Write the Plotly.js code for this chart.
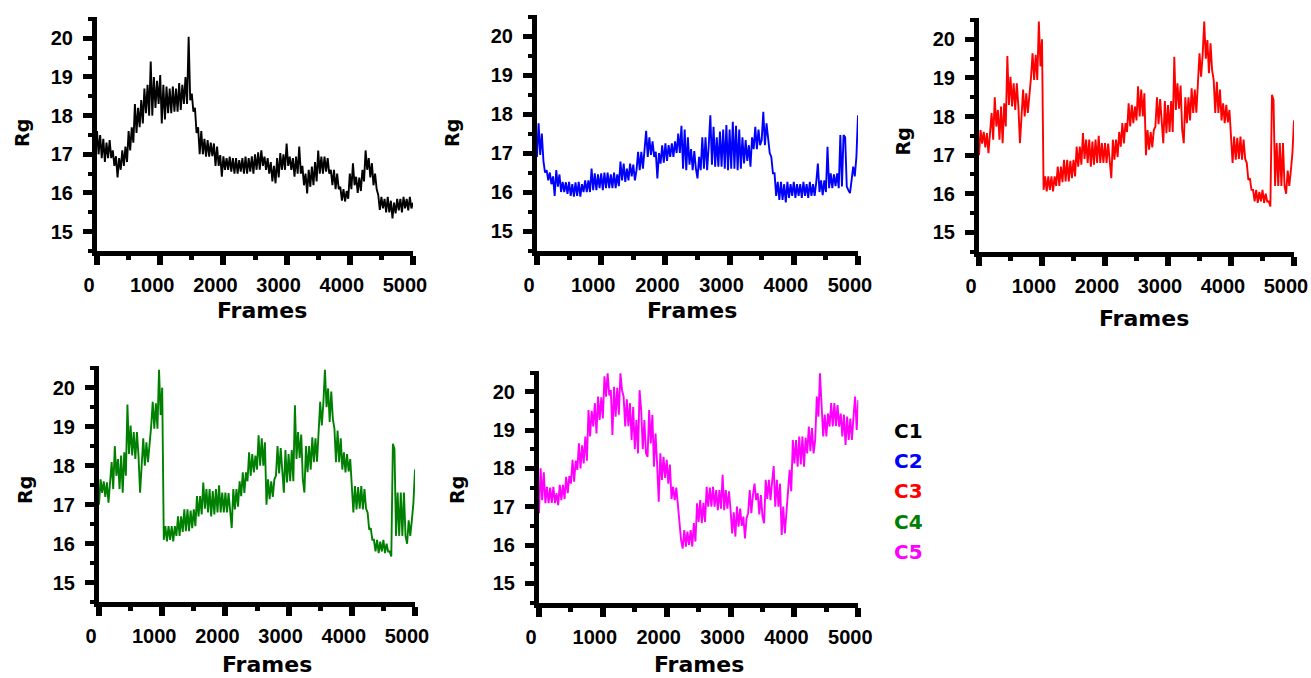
<!DOCTYPE html>
<html>
<head>
<meta charset="utf-8">
<script src="https://cdn.plot.ly/plotly-3.0.1.min.js"></script>
<style>
  html, body { margin: 0; padding: 0; background: #ffffff; }
  #chart { width: 1311px; height: 678px; }
</style>
</head>
<body>
<div id="chart"></div>
<script>
// ---------- data (every 25 frames) ----------
var frames = [
  0,25,50,75,100,125,150,175,200,225,250,275,300,325,350,375,400,425,450,475,
  500,525,550,575,600,625,650,675,700,725,750,775,800,825,850,875,900,925,950,975,
  1000,1025,1050,1075,1100,1125,1150,1175,1200,1225,1250,1275,1300,1325,1350,1375,1400,1425,1450,1475,
  1500,1525,1550,1575,1600,1625,1650,1675,1700,1725,1750,1775,1800,1825,1850,1875,1900,1925,1950,1975,
  2000,2025,2050,2075,2100,2125,2150,2175,2200,2225,2250,2275,2300,2325,2350,2375,2400,2425,2450,2475,
  2500,2525,2550,2575,2600,2625,2650,2675,2700,2725,2750,2775,2800,2825,2850,2875,2900,2925,2950,2975,
  3000,3025,3050,3075,3100,3125,3150,3175,3200,3225,3250,3275,3300,3325,3350,3375,3400,3425,3450,3475,
  3500,3525,3550,3575,3600,3625,3650,3675,3700,3725,3750,3775,3800,3825,3850,3875,3900,3925,3950,3975,
  4000,4025,4050,4075,4100,4125,4150,4175,4200,4225,4250,4275,4300,4325,4350,4375,4400,4425,4450,4475,
  4500,4525,4550,4575,4600,4625,4650,4675,4700,4725,4750,4775,4800,4825,4850,4875,4900,4925,4950,4975,
  5000];

var seriesNames = ["C1", "C2", "C3", "C4", "C5"];

var rgC1 = [
  17.6,17.0,17.5,16.9, 17.4,16.8,17.3,16.9, 17.37,16.9,17.1,16.7, 16.95,16.4,16.9,16.6, 17.1,16.7,17.2,16.8,
  17.6,17.1,17.7,17.3, 18.3,17.55,18.2,17.7, 18.4,17.8,18.7,18.06, 18.8,18.0,19.4,18.0, 19.0,18.2,18.9,18.3,
  19.05,17.8,18.8,17.9, 18.75,18.06,18.7,18.06, 18.75,18.1,18.7,18.1, 18.84,18.15,18.8,18.3, 19.0,18.3,20.04,18.4,
  18.57,18.1,18.2,17.55, 17.7,17.0,17.6,17.0, 17.4,16.94,17.37,16.94, 17.3,16.95,17.28,16.7, 17.2,16.7,16.98,16.42,
  16.95,16.6,16.9,16.6, 16.94,16.55,16.9,16.5, 16.9,16.5,16.85,16.55, 16.9,16.5,16.94,16.5, 16.9,16.55,16.95,16.5,
  17.0,16.6,17.05,16.6, 17.1,16.7,16.94,16.6, 16.9,16.5,16.8,16.3, 16.7,16.25,16.9,16.4, 17.03,16.6,17.0,16.6,
  17.28,16.7,16.94,16.6, 16.9,16.42,16.94,16.5, 17.2,16.5,16.7,16.2, 16.5,15.99,16.6,16.16, 16.68,16.2,16.8,16.3,
  17.1,16.5,16.94,16.5, 16.94,16.55,16.9,16.5, 16.6,16.2,16.6,16.1, 16.5,16.1,16.16,15.8, 16.1,15.78,16.05,15.85,
  16.5,16.1,16.77,16.2, 16.42,16.0,16.4,16.05, 16.6,16.3,17.1,16.6, 16.9,16.4,16.77,16.2, 16.5,16.1,15.95,15.56,
  15.9,15.6,15.85,15.5, 15.9,15.5,15.8,15.34, 15.75,15.47,15.85,15.55, 15.85,15.5,15.9,15.6, 15.85,15.55,15.9,15.6,
  15.75];

var rgC2 = [
  16.9,17.76,16.95,17.5, 16.8,16.5,16.56,16.3, 16.5,16.2,16.4,15.9, 16.56,16.14,16.45,16.0, 16.26,16.0,16.25,15.95,
  16.26,15.9,16.2,15.88, 16.25,15.9,16.26,15.88, 16.2,16.0,16.3,16.0, 16.3,16.0,16.6,16.05, 16.48,16.05,16.45,16.1,
  16.48,16.05,16.5,16.1, 16.5,16.1,16.45,16.1, 16.5,16.1,16.45,16.15, 16.78,16.3,16.73,16.26, 16.6,16.3,16.73,16.4,
  16.7,16.3,16.56,17.03, 16.56,17.03,16.6,17.2, 17.57,16.9,17.4,16.95, 17.3,16.9,17.03,16.35, 17.0,16.73,17.2,16.75,
  17.25,16.8,17.2,16.9, 17.25,16.9,17.3,17.0, 17.5,17.0,17.7,16.6, 17.6,16.56,17.4,16.7, 17.1,16.56,17.05,16.6,
  16.35,16.9,16.56,17.4, 16.6,17.4,16.56,17.2, 17.97,16.7,17.67,16.65, 17.4,16.65,17.55,16.65, 17.6,16.6,17.72,16.56,
  17.6,16.6,17.8,16.6, 17.7,16.56,17.6,16.6, 17.4,16.73,17.33,16.8, 17.2,16.65,17.4,17.1, 17.67,17.1,17.6,17.2,
  17.33,18.06,17.2,17.76, 17.4,17.0,16.9,16.48, 16.48,15.9,16.26,15.8, 16.26,15.8,16.2,15.73, 16.26,15.85,16.2,15.9,
  16.26,15.85,16.2,15.9, 16.2,15.85,16.26,15.9, 16.2,15.85,16.26,15.9, 16.2,15.9,16.26,16.73, 16.0,16.3,15.92,16.3,
  16.0,17.16,16.1,16.48, 16.1,16.45,16.15,16.48, 16.1,17.46,16.14,17.46, 17.4,16.14,16.05,15.97, 16.3,16.65,16.4,16.9,
  17.97];

var rgC3 = [
  17.0,17.65,17.3,17.6, 17.2,17.57,17.05,17.5, 18.09,17.4,18.5,17.74, 18.17,17.4,18.26,17.31, 18.34,17.74,19.57,18.3,
  19.03,18.26,18.86,18.17, 18.86,18.26,17.31,18.0, 18.7,18.0,18.6,18.09, 18.5,19.0,19.64,18.95, 19.6,18.95,20.46,19.3,
  20.0,16.1,16.45,16.06, 16.45,16.1,16.45,16.06, 16.45,16.2,16.7,16.2, 16.7,16.3,16.88,16.32, 16.88,16.32,16.85,16.4,
  16.88,16.45,17.22,16.7, 17.22,16.75,17.57,16.9, 17.4,16.8,17.4,16.7, 17.35,16.75,17.4,16.8, 17.5,16.8,17.31,16.8,
  17.31,16.8,17.3,16.85, 16.4,17.4,16.88,17.4, 16.95,17.6,17.22,17.83, 17.3,17.83,17.6,18.34, 17.74,18.3,17.83,18.26,
  17.9,18.78,18.0,18.7, 18.0,18.6,17.0,17.65, 17.14,17.6,17.2,17.65, 17.74,18.5,17.8,18.45, 17.74,17.31,18.4,17.57,
  18.3,17.6,18.4,17.6, 19.55,18.17,18.86,18.2, 18.8,17.65,17.31,18.5, 17.83,18.5,17.9,18.73, 18.09,18.7,18.1,19.03,
  19.64,19.03,19.6,20.46, 19.5,19.98,19.12,19.9, 19.2,18.95,18.09,18.9, 18.09,18.7,17.9,18.34, 17.83,18.3,17.85,18.17,
  17.31,16.8,17.48,16.88, 17.45,16.9,17.48,16.88, 17.4,16.9,16.8,16.36, 16.4,16.1,16.1,15.8, 16.1,15.76,16.05,15.8,
  16.1,15.76,16.0,15.8, 15.8,15.67,18.56,18.43, 16.2,17.31,16.2,17.31, 16.2,17.31,16.2,16.0, 16.6,16.2,16.6,17.05,
  17.9];

var rgC4 = [
  17.0,17.65,17.3,17.6, 17.2,17.57,17.05,17.5, 18.09,17.4,18.5,17.74, 18.17,17.4,18.26,17.31, 18.34,17.74,19.57,18.3,
  19.03,18.26,18.86,18.17, 18.86,18.26,17.31,18.0, 18.7,18.0,18.6,18.09, 18.5,19.0,19.64,18.95, 19.6,18.95,20.46,19.3,
  20.0,16.1,16.45,16.06, 16.45,16.1,16.45,16.06, 16.45,16.2,16.7,16.2, 16.7,16.3,16.88,16.32, 16.88,16.32,16.85,16.4,
  16.88,16.45,17.22,16.7, 17.22,16.75,17.57,16.9, 17.4,16.8,17.4,16.7, 17.35,16.75,17.4,16.8, 17.5,16.8,17.31,16.8,
  17.31,16.8,17.3,16.85, 16.4,17.4,16.88,17.4, 16.95,17.6,17.22,17.83, 17.3,17.83,17.6,18.34, 17.74,18.3,17.83,18.26,
  17.9,18.78,18.0,18.7, 18.0,18.6,17.0,17.65, 17.14,17.6,17.2,17.65, 17.74,18.5,17.8,18.45, 17.74,17.31,18.4,17.57,
  18.3,17.6,18.4,17.6, 19.55,18.17,18.86,18.2, 18.8,17.65,17.31,18.5, 17.83,18.5,17.9,18.73, 18.09,18.7,18.1,19.03,
  19.64,19.03,19.6,20.46, 19.5,19.98,19.12,19.9, 19.2,18.95,18.09,18.9, 18.09,18.7,17.9,18.34, 17.83,18.3,17.85,18.17,
  17.31,16.8,17.48,16.88, 17.45,16.9,17.48,16.88, 17.4,16.9,16.8,16.36, 16.4,16.1,16.1,15.8, 16.1,15.76,16.05,15.8,
  16.1,15.76,16.0,15.8, 15.8,15.67,18.56,18.43, 16.2,17.31,16.2,17.31, 16.2,17.31,16.2,16.0, 16.6,16.2,16.6,17.05,
  17.9];

var rgC5 = [
  16.83,18.0,17.17,17.9, 17.09,17.52,17.09,17.5, 17.1,17.52,17.09,17.35, 17.04,17.57,17.17,17.57, 17.2,17.78,17.35,17.8,
  17.6,18.22,17.65,18.2, 17.96,18.65,18.0,18.6, 18.13,18.83,18.2,19.52, 18.83,19.5,19.09,19.7, 18.91,19.87,19.26,19.85,
  19.3,20.4,19.87,20.48, 19.9,20.04,18.87,20.13, 19.35,20.1,19.4,20.48, 20.04,19.87,19.09,19.8, 19.1,19.7,18.74,19.6,
  18.5,19.26,18.39,20.04, 19.52,18.5,19.26,18.39, 18.3,19.52,18.65,19.4, 18.04,18.91,18.1,17.13, 18.39,17.7,18.3,17.75,
  18.22,17.6,18.1,17.2, 17.52,17.17,17.5,17.0, 16.57,16.13,15.91,16.39, 15.96,16.35,16.0,16.39, 15.96,16.57,16.09,17.09,
  16.6,17.17,16.57,17.1, 16.6,17.52,17.0,17.5, 17.0,17.52,17.0,17.43, 16.91,17.43,16.95,17.83, 16.91,17.43,16.95,17.4,
  16.91,16.3,16.85,16.22, 17.0,16.48,16.95,16.5, 16.74,16.17,16.7,16.83, 17.43,16.83,17.3,17.6, 17.17,17.35,16.8,17.3,
  16.74,16.57,17.7,17.2, 17.7,17.17,17.65,18.06, 17.0,17.7,17.0,17.6, 16.26,17.0,16.3,16.9, 17.35,17.96,17.4,18.74,
  18.13,18.74,18.04,18.83, 18.1,18.83,18.04,18.8, 18.39,19.09,18.45,19.05, 18.39,18.74,19.87,19.35, 20.48,19.43,18.83,19.4,
  18.83,19.43,19.09,19.7, 19.09,19.7,19.1,19.65, 19.09,19.43,18.83,19.4, 18.61,19.35,18.74,19.3, 18.74,19.35,19.87,19.0,
  19.78];

var xTickVals = [0, 1000, 2000, 3000, 4000, 5000];
var xTickText = ["0", "1000", "2000", "3000", "4000", "5000"];
var yTickVals = [15, 16, 17, 18, 19, 20];
var yTickText = ["15", "16", "17", "18", "19", "20"];
var xTitle = "Frames";
var yTitle = "Rg";

// ---------- styling / layout ----------
var W = 1311, H = 678;
var colors = ["#000000", "#0000ff", "#ff0000", "#008000", "#ff00ff"];
var allSeries = [rgC1, rgC2, rgC3, rgC4, rgC5];

// panel boxes in pixels: [left, right, top, bottom]
var boxes = [
  [97, 413, 17, 251],
  [537, 858, 14.6, 250.5],
  [979, 1294, 18.1, 251.6],
  [99, 415, 366.2, 602.2],
  [539, 858.3, 370.6, 602.5]
];
// axis-title positions in pixels (centre x, centre y)
var xTitlePos = [[262, 310], [692, 310], [1144, 318.5], [267, 664], [699, 664]];
var yTitlePos = [[22, 133], [452, 133], [903, 141.5], [25, 490], [457, 490]];

var tickFont = {family: "Liberation Sans, Arial, sans-serif", size: 20, color: "#000", weight: "bold"};
var titleFont = {family: "DejaVu Sans, Verdana, sans-serif", size: 22, color: "#000", weight: "bold"};
var rgFont = {family: "DejaVu Sans, Verdana, sans-serif", size: 19, color: "#000", weight: "bold"};
var legFont = {family: "DejaVu Sans, Verdana, sans-serif", size: 20, weight: "bold"};

var traces = [];
var layout = {
  width: W, height: H,
  margin: {l: 0, r: 0, t: 0, b: 0},
  paper_bgcolor: "#ffffff",
  plot_bgcolor: "#ffffff",
  showlegend: false,
  annotations: []
};

for (var i = 0; i < 5; i++) {
  var n = i === 0 ? "" : String(i + 1);
  traces.push({
    type: "scatter", mode: "lines",
    x: frames, y: allSeries[i],
    name: seriesNames[i],
    xaxis: "x" + n, yaxis: "y" + n,
    line: {color: colors[i], width: 1.9},
    hoverinfo: "x+y"
  });
  var b = boxes[i];
  layout["xaxis" + n] = {
    domain: [b[0] / W, b[1] / W],
    anchor: "y" + n,
    range: [0, 5000],
    tickmode: "array", tickvals: xTickVals, ticktext: xTickText,
    ticks: "outside", ticklen: 9, tickwidth: 6, tickcolor: "#000",
    showline: true, linewidth: 5, linecolor: "#000",
    showgrid: false, zeroline: false,
    tickfont: tickFont,
    ticklabelshift: -8,
    ticklabelstandoff: 3,
    minor: {dtick: 500, tick0: 0, ticks: "outside", ticklen: 4, tickwidth: 5, tickcolor: "#000", showgrid: false},
    fixedrange: true
  };
  layout["yaxis" + n] = {
    domain: [1 - b[3] / H, 1 - b[2] / H],
    anchor: "x" + n,
    range: [14.5, 20.55],
    tickmode: "array", tickvals: yTickVals, ticktext: yTickText,
    ticks: "outside", ticklen: 9, tickwidth: 5, tickcolor: "#000",
    showline: true, linewidth: 5, linecolor: "#000",
    showgrid: false, zeroline: false,
    tickfont: tickFont,
    ticklabelstandoff: 6,
    minor: {dtick: 0.5, tick0: 14.5, ticks: "outside", ticklen: 4, tickwidth: 4, tickcolor: "#000", showgrid: false},
    fixedrange: true
  };
  layout.annotations.push({
    text: xTitle, xref: "paper", yref: "paper",
    x: xTitlePos[i][0] / W, y: 1 - xTitlePos[i][1] / H,
    xanchor: "center", yanchor: "middle", showarrow: false, borderpad: 0, font: titleFont
  });
  layout.annotations.push({
    text: yTitle, xref: "paper", yref: "paper",
    x: yTitlePos[i][0] / W, y: 1 - yTitlePos[i][1] / H,
    xanchor: "center", yanchor: "middle", textangle: -90, showarrow: false, font: rgFont
  });
}

// colour-coded series key
var keyY = [431, 461, 491, 522, 552];
for (var k = 0; k < 5; k++) {
  layout.annotations.push({
    text: seriesNames[k], xref: "paper", yref: "paper",
    x: 892 / W, y: 1 - keyY[k] / H,
    xanchor: "left", yanchor: "middle", showarrow: false,
    font: {family: legFont.family, size: legFont.size, weight: legFont.weight, color: colors[k]}
  });
}

Plotly.newPlot("chart", traces, layout, {displayModeBar: false, responsive: false});
</script>
</body>
</html>
